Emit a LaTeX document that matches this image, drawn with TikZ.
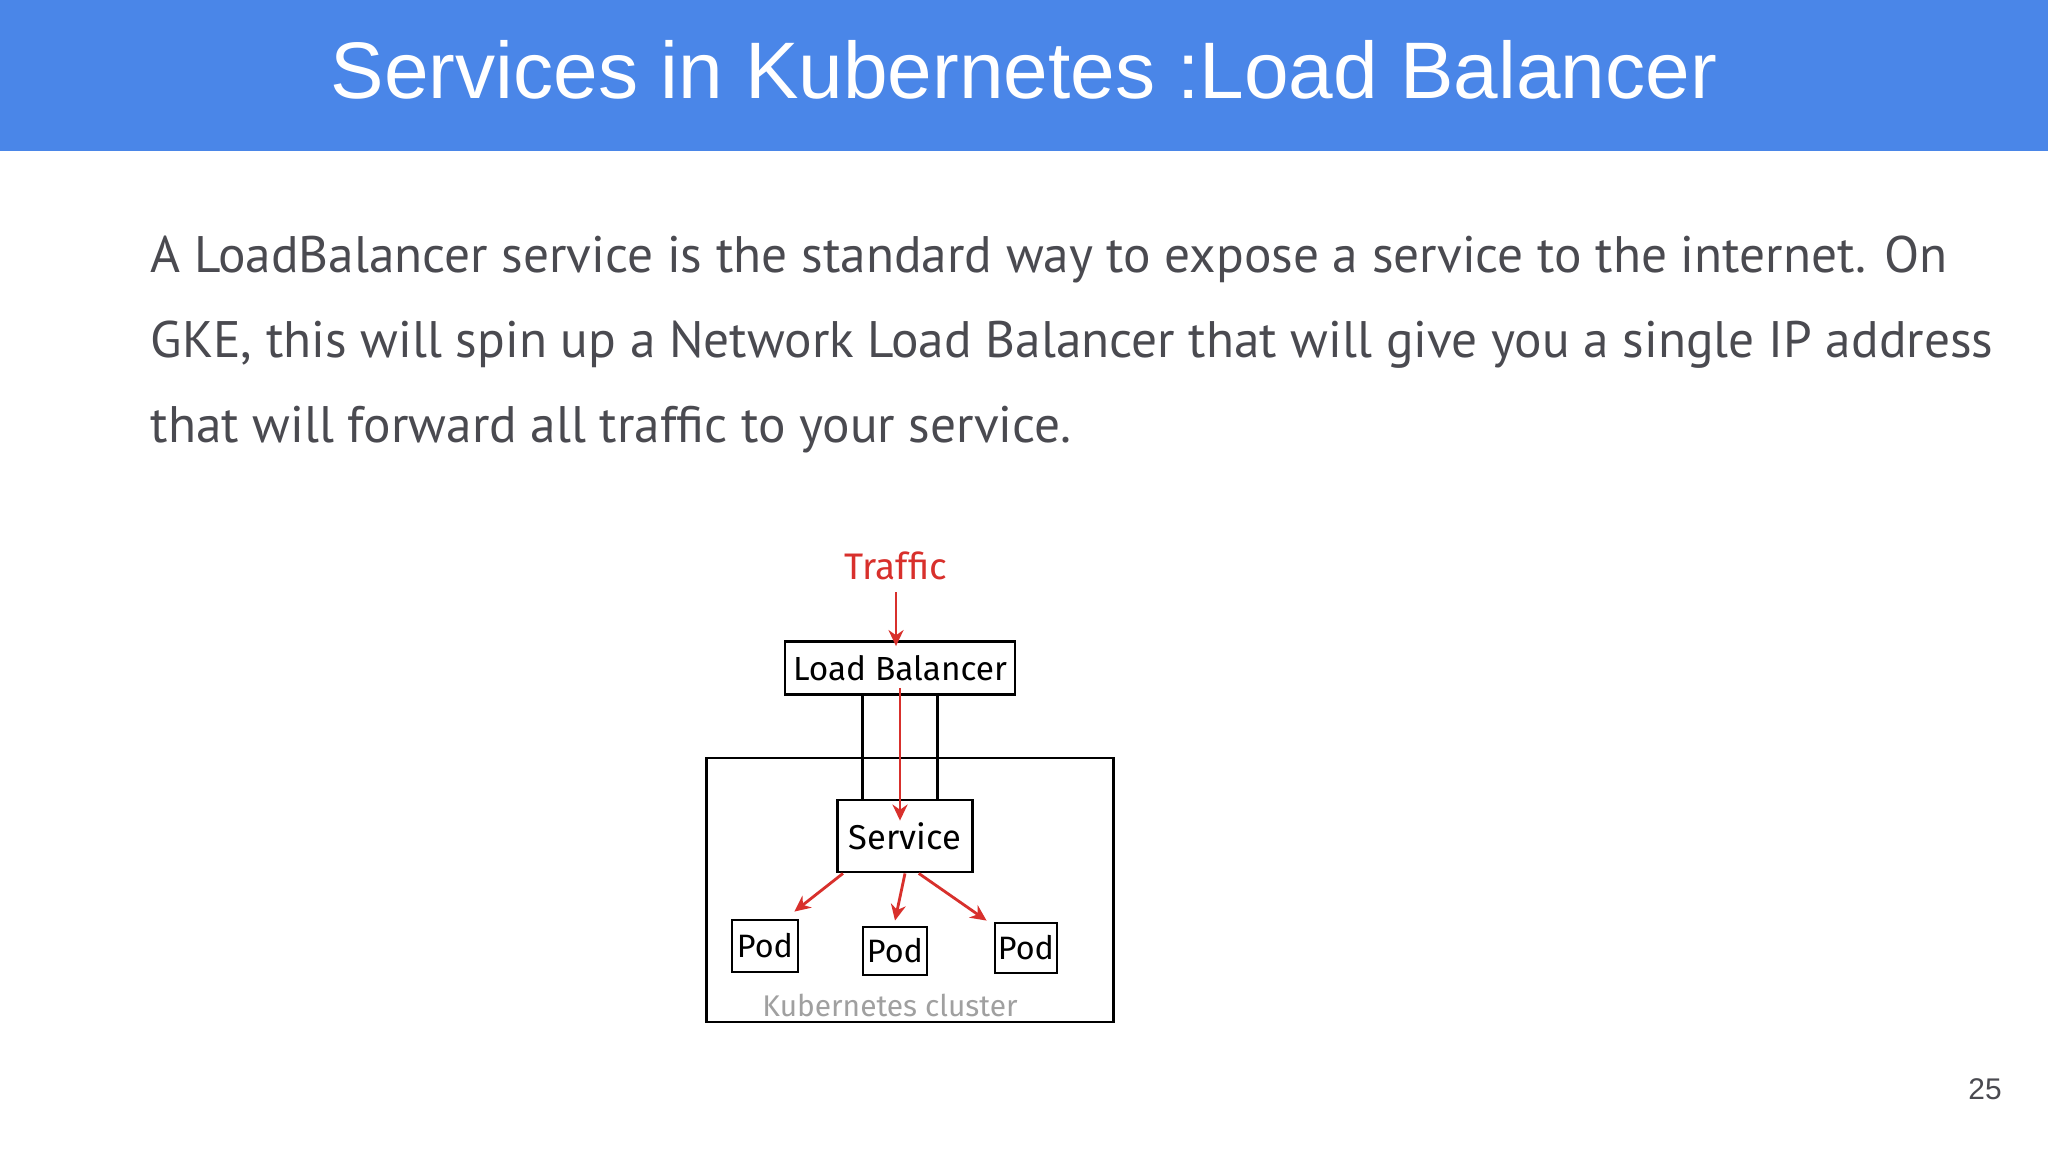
\documentclass[tikz,border=0pt]{standalone}
\usepackage{fontspec}
\setmainfont{Fira Sans}
\newfontfamily\titlefont{Liberation Sans}
\newfontfamily\bodyfont{PT Sans}
\usetikzlibrary{arrows.meta,calc}
\definecolor{slideblue}{HTML}{4A86E8}
\definecolor{bodygray}{HTML}{4A4A50}
\definecolor{sketchred}{HTML}{D8302C}
\definecolor{labelgray}{HTML}{A0A0A0}

\begin{document}
\begin{tikzpicture}[x=0.01cm, y=-0.01cm,
    bodyline/.style={anchor=base west, inner sep=0pt, text=bodygray, font=\bodyfont\fontsize{14.6}{17}\selectfont},
    sketchbox/.style={draw, line width=0.8pt, inner sep=0pt},
    redarrow/.style={draw=sketchred, line width=0.8pt, -{Stealth[length=1.6mm,width=1.5mm]}},
    link/.style={draw, line width=0.8pt}]
    \useasboundingbox (0,0) rectangle (2048,1152);
    \fill[white] (0,0) rectangle (2048,1152);
    \fill[slideblue] (0,0) rectangle (2048,151);
    \node[anchor=base, text=white, inner sep=0pt, font=\titlefont\fontsize{22.8}{26}\selectfont] (title) at (1024,99) {Services in Kubernetes :Load Balancer};
    \node[bodyline] (line1) at (150,273) {A LoadBalancer service is the standard way to expose a service to the internet. On};
    \node[bodyline] (line2) at (150,358) {GKE, this will spin up a Network Load Balancer that will give you a single IP address};
    \node[bodyline] (line3) at (150,443) {that will forward all traffic to your service.};

    \node[sketchbox, minimum width=4.06cm, minimum height=2.64cm] (cluster) at (910,890) {};
    \node[text=sketchred, font=\fontsize{10.5}{13}\selectfont] (traffic) at (896,566) {Traffic};
    \node[sketchbox, fill=white, minimum width=2.3cm, minimum height=0.53cm, font=\fontsize{9.5}{12}\selectfont] (lb) at (900,668) {Load Balancer};
    \node[sketchbox, fill=white, minimum width=1.35cm, minimum height=0.72cm, font=\fontsize{9.8}{12}\selectfont] (svc) at (905,836) {Service};
    \node[sketchbox, minimum width=0.66cm, minimum height=0.52cm, font=\fontsize{9.2}{12}\selectfont] (pod1) at (765,946) {Pod};
    \node[sketchbox, minimum width=0.64cm, minimum height=0.48cm, font=\fontsize{9.2}{12}\selectfont] (pod2) at (895,951) {Pod};
    \node[sketchbox, minimum width=0.62cm, minimum height=0.50cm, font=\fontsize{9.2}{12}\selectfont] (pod3) at (1026,948) {Pod};
    \node[text=labelgray, font=\fontsize{8.5}{10}\selectfont] (clusterlabel) at (890,1005) {Kubernetes cluster};

    \coordinate (w1) at ($(lb.south west)!.34!(lb.south east)$);
    \coordinate (w2) at ($(lb.south west)!.66!(lb.south east)$);
    \draw[link] (w1) -- (w1 |- svc.north);
    \draw[link] (w2) -- (w2 |- svc.north);

    \draw[redarrow, shorten >=-0.6mm] (traffic.south) -- (traffic.south |- lb.north);
    \draw[redarrow, shorten <=-0.8mm, shorten >=-2.2mm] (lb.south) -- (lb.south |- svc.north);
    \draw[redarrow] ($(svc.south west)!.05!(svc.south east)$) -- ($(pod1.north east)+(-5,-7)$);
    \draw[redarrow] (svc.south) -- ($(pod2.north)+(0,-5)$);
    \draw[redarrow] ($(svc.south west)!.6!(svc.south east)$) -- ($(pod3.north west)+(-7,-1)$);

    \node[text=bodygray, font=\titlefont\fontsize{8.5}{10}\selectfont] (pagenum) at (1985,1089) {25};
\end{tikzpicture}
\end{document}
